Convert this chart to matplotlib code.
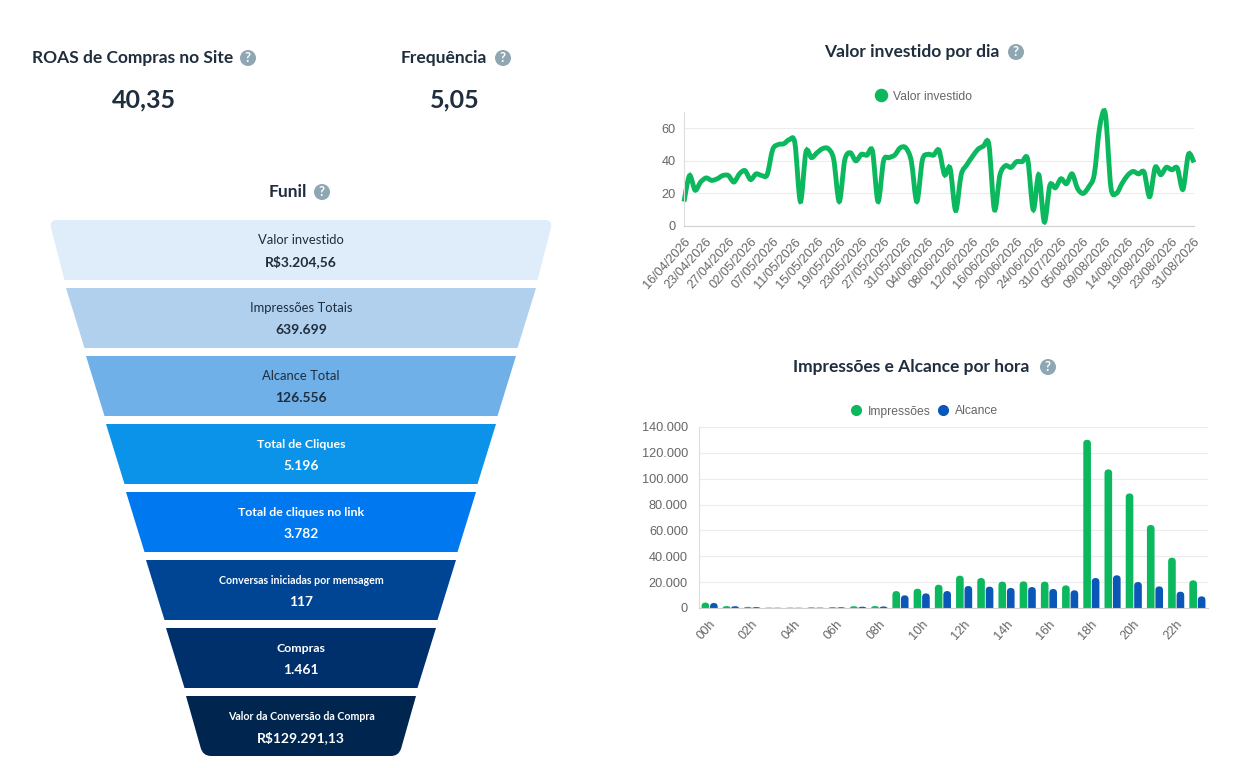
import matplotlib
matplotlib.use("Agg")
import matplotlib.pyplot as plt
import numpy as np
from matplotlib.lines import Line2D
from matplotlib.patches import PathPatch, Circle
from matplotlib.path import Path
from matplotlib.ticker import FuncFormatter
from matplotlib.transforms import ScaledTranslation

FONT = "Lato"
TICK_FONT = "Liberation Sans"
GREEN = "#0bb85e"
BLUE = "#0a57b8"
DARK = "#1f2d3d"
GREY = "#666666"
W, H = 1250, 768

funnel_labels = ["Valor investido", "Impressões Totais", "Alcance Total", "Total de Cliques",
                 "Total de cliques no link", "Conversas iniciadas por mensagem", "Compras",
                 "Valor da Conversão da Compra"]
funnel_values = ["R$3.204,56", "639.699", "126.556", "5.196", "3.782", "117", "1.461", "R$129.291,13"]
funnel_colors = ["#dfecfa", "#b0d0ee", "#70b0e8", "#0a93e8", "#0078f0", "#004494", "#00306c", "#00264f"]

dia_labels = ["16/04/2026", "23/04/2026", "27/04/2026", "02/05/2026", "07/05/2026", "11/05/2026",
              "15/05/2026", "19/05/2026", "23/05/2026", "27/05/2026", "31/05/2026", "04/06/2026",
              "08/06/2026", "12/06/2026", "16/06/2026", "20/06/2026", "24/06/2026", "31/07/2026",
              "05/08/2026", "09/08/2026", "14/08/2026", "19/08/2026", "23/08/2026", "31/08/2026"]
valor_investido = [15, 31, 22, 27, 29.5, 28, 29, 31, 31, 27, 32, 34, 28.5, 32, 31, 31.5,
                   47, 50, 50.5, 53, 51, 15, 45.5, 42, 45, 47.5, 47.5, 41, 15, 40.5, 45, 40,
                   44, 43.5, 46, 15, 40, 42, 43.5, 48, 48, 40, 15, 40.5, 44, 43.5, 46.5, 31.5,
                   35.5, 9.5, 31.5, 37.5, 42.5, 47, 49, 50, 10, 31.5, 37, 36, 39.5, 39.5, 41,
                   10, 31.5, 2.5, 25, 23.5, 29, 26, 32, 23, 20, 24, 31.5, 61, 69, 24, 20, 26,
                   31, 33.5, 32, 33, 18, 36, 31.5, 36, 34.5, 35.5, 22.5, 44, 39]

horas = ["%02dh" % h for h in range(24)]
impressoes = [4200, 1500, 900, 300, 300, 500, 700, 1400, 1500, 13100, 14900, 18000,
              25000, 23200, 20400, 20600, 20400, 17500, 130100, 107200, 88600, 64200, 38900, 21400]
alcance = [3900, 1400, 700, 200, 200, 300, 600, 1000, 1200, 9800, 11300, 13100,
           17000, 16500, 15500, 16200, 14700, 13700, 23200, 25300, 20100, 16700, 12600, 9000]


def px_axes(left, top, right, bottom):
    return fig.add_axes([left / W, 1 - bottom / H, (right - left) / W, (bottom - top) / H])


def help_icon(x, y, r=8):
    bg.add_patch(Circle((x, y), r, color="#8fa6b3", lw=0))
    bg.text(x, y + 0.3, "?", color="white", fontsize=9.5, fontweight="bold", family=FONT, ha="center", va="center")


def title(text, x, y, icon_x, size=12.5):
    bg.text(x, y + 1, text, color=DARK, fontsize=size, fontweight="bold", family=FONT, ha="center", va="center")
    help_icon(icon_x, y + 1)


def funnel_row(top_half, bottom_half, y0, y1, color, round_top=False, round_bottom=False, cx=301, r=8):
    # trapezoid, only the first and last rows have rounded corners
    dx = (top_half - bottom_half) / (y1 - y0)
    if round_top:
        verts = [(cx - bottom_half, y1), (cx - top_half + dx * r, y0 + r), (cx - top_half, y0),
                 (cx - top_half + r, y0), (cx + top_half - r, y0), (cx + top_half, y0),
                 (cx + top_half - dx * r, y0 + r), (cx + bottom_half, y1), (cx - bottom_half, y1)]
        codes = [Path.MOVETO, Path.LINETO, Path.CURVE3, Path.CURVE3, Path.LINETO, Path.CURVE3, Path.CURVE3,
                 Path.LINETO, Path.CLOSEPOLY]
    elif round_bottom:
        verts = [(cx - top_half, y0), (cx + top_half, y0), (cx + bottom_half + dx * r, y1 - r),
                 (cx + bottom_half, y1), (cx + bottom_half - r, y1), (cx - bottom_half + r, y1),
                 (cx - bottom_half, y1), (cx - bottom_half - dx * r, y1 - r), (cx - top_half, y0)]
        codes = [Path.MOVETO, Path.LINETO, Path.LINETO, Path.CURVE3, Path.CURVE3, Path.LINETO, Path.CURVE3,
                 Path.CURVE3, Path.CLOSEPOLY]
    else:
        verts = [(cx - top_half, y0), (cx + top_half, y0), (cx + bottom_half, y1), (cx - bottom_half, y1),
                 (cx - top_half, y0)]
        codes = [Path.MOVETO, Path.LINETO, Path.LINETO, Path.LINETO, Path.CLOSEPOLY]
    bg.add_patch(PathPatch(Path(verts, codes), facecolor=color, lw=0))


def smooth_line(x, y, t=0.15):
    # same kind of curve chart.js draws with tension
    px = np.r_[x[0], x, x[-1]]
    py = np.r_[y[0], y, y[-1]]
    verts = [(x[0], y[0])]
    codes = [Path.MOVETO]
    for i in range(1, len(x)):
        verts.append((px[i] + t * (px[i + 1] - px[i - 1]), py[i] + t * (py[i + 1] - py[i - 1])))
        verts.append((px[i + 1] - t * (px[i + 2] - px[i]), py[i + 1] - t * (py[i + 2] - py[i])))
        verts.append((px[i + 1], py[i + 1]))
        codes += [Path.CURVE4] * 3
    return Path(verts, codes)


def rounded_bar(ax, x, w, h, color, ry_per_rx):
    rx = w / 2
    ry = min(rx * ry_per_rx, h)
    verts = [(x - rx, 0), (x - rx, h - ry), (x - rx, h), (x, h), (x + rx, h), (x + rx, h - ry), (x + rx, 0), (x - rx, 0)]
    codes = [Path.MOVETO, Path.LINETO, Path.CURVE3, Path.CURVE3, Path.CURVE3, Path.CURVE3, Path.LINETO, Path.CLOSEPOLY]
    ax.add_patch(PathPatch(Path(verts, codes), facecolor=color, lw=0))


def style_chart(ax, ypad=6):
    ax.set_axisbelow(True)
    ax.grid(axis="y", color="#ececec", lw=0.8)
    for s in ["top", "right"]:
        ax.spines[s].set_visible(False)
    ax.spines["left"].set_color("#dddddd")
    ax.spines["bottom"].set_color("#d0d0d0")
    ax.tick_params(length=0, colors=GREY, labelsize=9.2)
    ax.tick_params(axis="y", pad=ypad)
    ax.tick_params(axis="x", pad=10)
    # labels sit a bit to the right of their ticks
    shift = ScaledTranslation(4 / 100, 0, fig.dpi_scale_trans)
    for lab in ax.get_xticklabels():
        lab.set_transform(lab.get_transform() + shift)
    plt.setp(ax.get_yticklabels(), family=TICK_FONT)


fig = plt.figure(figsize=(W / 100, H / 100), dpi=100)

bg = fig.add_axes([0, 0, 1, 1])
bg.set_xlim(0, W)
bg.set_ylim(H, 0)
bg.axis("off")

title("ROAS de Compras no Site", 133, 57, 248)
bg.text(144, 100, "40,35", color=DARK, fontsize=18, fontweight="bold", family=FONT, ha="center", va="center")
title("Frequência", 444, 57, 503)
bg.text(455, 100, "5,05", color=DARK, fontsize=18, fontweight="bold", family=FONT, ha="center", va="center")
title("Funil", 288, 191, 322)
title("Valor investido por dia", 912, 51, 1016)
title("Impressões e Alcance por hora", 911, 366, 1048)

# funnel
row_top = 220
row_h = 60
row_gap = 8
n_rows = len(funnel_labels)
top_halves = [252] + [235 - 20 * i for i in range(n_rows - 1)]
for i in range(n_rows):
    y0 = row_top + i * (row_h + row_gap)
    y1 = y0 + row_h
    bottom_half = top_halves[i + 1] + 1.5 if i < n_rows - 1 else 98
    funnel_row(top_halves[i], bottom_half, y0, y1, funnel_colors[i], round_top=i == 0, round_bottom=i == n_rows - 1)
    txt = DARK if i < 3 else "white"
    long_label = len(funnel_labels[i]) > 25
    if i < 3:
        size, weight = 9.4, "normal"
    else:
        size, weight = (7.7 if long_label else 8.9), "bold"
    bg.text(301, y0 + 20, funnel_labels[i], color=txt, fontsize=size, fontweight=weight, family=FONT,
            ha="center", va="center")
    bg.text(301, y0 + 41.5, funnel_values[i], color=txt, fontsize=10, fontweight="bold", family=FONT,
            ha="center", va="center")

# line chart
ax1 = px_axes(684, 112, 1194, 226)
ax1.set_xlim(0, len(valor_investido) - 1)
ax1.set_ylim(0, 70)
ax1.add_patch(PathPatch(smooth_line(np.arange(len(valor_investido)), np.array(valor_investido, dtype=float)),
                        facecolor="none", edgecolor=GREEN, lw=3.5, clip_on=False))
ax1.set_yticks([0, 20, 40, 60])
ax1.set_xticks(np.arange(len(dia_labels)) * 4)
ax1.set_xticklabels(dia_labels, rotation=48, ha="right", va="center", rotation_mode="anchor", family=TICK_FONT)
style_chart(ax1)
ax1.legend(handles=[Line2D([], [], marker="o", ls="", color=GREEN, ms=8.7, label="Valor investido")],
           loc="center", bbox_to_anchor=(920 / W, 1 - 96.5 / H), bbox_transform=fig.transFigure, frameon=False,
           handletextpad=0.0, prop={"family": TICK_FONT, "size": 8.7}, labelcolor=GREY)

# bars
ax2 = px_axes(699, 427, 1208, 608)
ax2.set_xlim(-0.5, 23.5)
ax2.set_ylim(0, 140000)
bar_w = 0.36
ry_per_rx = (509 / 24) / (181 / 140000)
for i in range(len(horas)):
    rounded_bar(ax2, i - 0.2, bar_w, impressoes[i], GREEN, ry_per_rx)
    rounded_bar(ax2, i + 0.2, bar_w, alcance[i], BLUE, ry_per_rx)
ax2.set_yticks(np.arange(0, 140001, 20000))
ax2.yaxis.set_major_formatter(FuncFormatter(lambda v, _: f"{int(v):,}".replace(",", ".")))
ax2.set_xticks(np.arange(0, 24, 2))
ax2.set_xticklabels(horas[::2], rotation=48, ha="right", va="center", rotation_mode="anchor", family=TICK_FONT)
style_chart(ax2, ypad=8)
ax2.legend(handles=[Line2D([], [], marker="o", ls="", color=GREEN, ms=7, label="Impressões"),
                    Line2D([], [], marker="o", ls="", color=BLUE, ms=7, label="Alcance")],
           loc="center", bbox_to_anchor=(921 / W, 1 - 411.5 / H), bbox_transform=fig.transFigure, frameon=False, ncol=2,
           handletextpad=0.0, columnspacing=0.0, prop={"family": TICK_FONT, "size": 8.7}, labelcolor=GREY)

fig.savefig("out.png", dpi=100)
